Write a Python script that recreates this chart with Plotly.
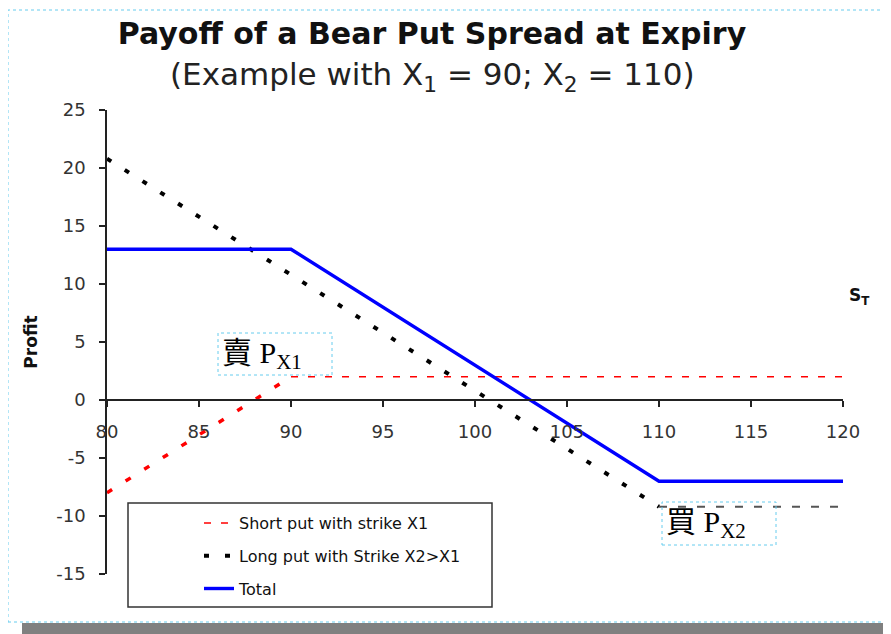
import plotly.graph_objects as go

# ---- data ----
short_put_x = [80, 90, 120]
short_put_y = [-8, 2, 2]
long_put_x = [80, 110, 120]
long_put_y = [20.8, -9.2, -9.2]
total_x = [80, 90, 110, 120]
total_y = [13, 13, -7, -7]
x_ticks = [80, 85, 90, 95, 100, 105, 110, 115, 120]
y_ticks = [-15, -10, -5, 0, 5, 10, 15, 20, 25]
names = ["Short put with strike X1", "Long put with Strike X2>X1", "Total"]

WIDE = "DejaVu Sans, sans-serif"
SERIF = "Liberation Serif, 'Noto Sans CJK TC', serif"

fig = go.Figure()

# short put: sloped part (thick red dots) and flat part (thin red dashes)
fig.add_trace(go.Scatter(x=short_put_x[:2], y=short_put_y[:2], mode="lines",
                         line=dict(color="#ff0000", width=3.5, dash="6px,16px"),
                         showlegend=False, hoverinfo="skip", legendgroup="g1"))
fig.add_trace(go.Scatter(x=short_put_x[1:], y=short_put_y[1:], mode="lines", name=names[0],
                         line=dict(color="#ff0000", width=1.5, dash="7px,10px"),
                         legendgroup="g1", legendrank=1))
# long put: sloped part (black dots) and flat part (gray dashes)
fig.add_trace(go.Scatter(x=long_put_x[:2], y=long_put_y[:2], mode="lines", name=names[1],
                         line=dict(color="#000000", width=4, dash="5px,16px"),
                         legendgroup="g2", legendrank=2))
fig.add_trace(go.Scatter(x=long_put_x[1:], y=long_put_y[1:], mode="lines",
                         line=dict(color="#555555", width=2, dash="8px,11px"),
                         showlegend=False, hoverinfo="skip", legendgroup="g2"))
# total
fig.add_trace(go.Scatter(x=total_x, y=total_y, mode="lines", name=names[2],
                         line=dict(color="#0000ff", width=3.4),
                         legendgroup="g3", legendrank=3))

# page is drawn 8px in from the window corner; these helpers take window pixels
def px(x):
    return (x - 107) / 736.0

def py(y):
    return (574 - y) / 464.0

shapes = [
    dict(type="rect", xref="paper", yref="paper", x0=px(8), x1=px(888), y0=py(622), y1=py(10),
         line=dict(color="#66ccee", width=1, dash="dot"), layer="below"),
    dict(type="rect", xref="paper", yref="paper", x0=px(22), x1=px(891), y0=py(634), y1=py(623),
         fillcolor="#808080", line=dict(width=0)),
    dict(type="rect", xref="paper", yref="paper", x0=px(889.5), x1=px(891), y0=py(623), y1=py(15),
         fillcolor="#808080", line=dict(width=0)),
    dict(type="rect", xref="paper", yref="paper", x0=px(128), x1=px(492), y0=py(607), y1=py(503),
         line=dict(color="#333333", width=1.5)),
    dict(type="rect", xref="paper", yref="paper", x0=px(218), x1=px(332), y0=py(375), y1=py(333),
         line=dict(color="#66ccee", width=1, dash="dot")),
    dict(type="rect", xref="paper", yref="paper", x0=px(662), x1=px(776), y0=py(545), y1=py(502),
         line=dict(color="#66ccee", width=1, dash="dot")),
]

annotations = [
    dict(xref="paper", yref="paper", x=px(432), y=py(76), xanchor="center", yanchor="middle",
         text="(Example with X<sub>1</sub> = 90; X<sub>2</sub> = 110)", showarrow=False,
         font=dict(family=WIDE, size=31, color="#222222")),
    dict(xref="paper", yref="paper", x=px(847), y=py(296), xanchor="left", yanchor="middle",
         text="<b>S<sub>T</sub></b>", showarrow=False, font=dict(family=WIDE, size=17, color="#111111")),
    dict(xref="paper", yref="paper", x=px(220), y=py(355), xanchor="left", yanchor="middle",
         text="賣 P<sub>X1</sub>", showarrow=False, font=dict(family=SERIF, size=30, color="#000000")),
    dict(xref="paper", yref="paper", x=px(664), y=py(524), xanchor="left", yanchor="middle",
         text="買 P<sub>X2</sub>", showarrow=False, font=dict(family=SERIF, size=30, color="#000000")),
]

fig.update_layout(
    width=883, height=626,
    margin=dict(l=99, r=48, t=102, b=60),
    paper_bgcolor="white", plot_bgcolor="white",
    title=dict(text="<b>Payoff of a Bear Put Spread at Expiry</b>", xref="paper", x=px(432),
               xanchor="center", yref="container", y=1 - 25 / 626, yanchor="middle",
               font=dict(family=WIDE, size=30, color="#111111")),
    xaxis=dict(range=[80, 120], tickvals=x_ticks, ticktext=[str(v) for v in x_ticks],
               anchor="free", position=15 / 40, showline=True, linecolor="#222222", linewidth=1.5,
               ticks="outside", ticklen=6, tickwidth=1.5, tickcolor="#222222",
               showgrid=False, zeroline=False, ticklabelstandoff=10,
               tickfont=dict(family=WIDE, size=18, color="#333333")),
    yaxis=dict(range=[-15, 25], tickvals=y_ticks, ticktext=[str(v) for v in y_ticks],
               showline=True, linecolor="#222222", linewidth=1.5,
               ticks="outside", ticklen=6, tickwidth=1.5, tickcolor="#222222",
               showgrid=False, zeroline=False, ticklabelstandoff=10,
               tickfont=dict(family=WIDE, size=18, color="#333333"),
               title=dict(text="<b>Profit</b>", standoff=14, font=dict(family=WIDE, size=17, color="#111111"))),
    legend=dict(x=px(199), y=py(506), xanchor="left", yanchor="top", bgcolor="rgba(0,0,0,0)",
                borderwidth=0, traceorder="grouped", tracegroupgap=9,
                font=dict(family=WIDE, size=16, color="#111111")),
    shapes=shapes, annotations=annotations,
)

fig.write_html("out.html")
